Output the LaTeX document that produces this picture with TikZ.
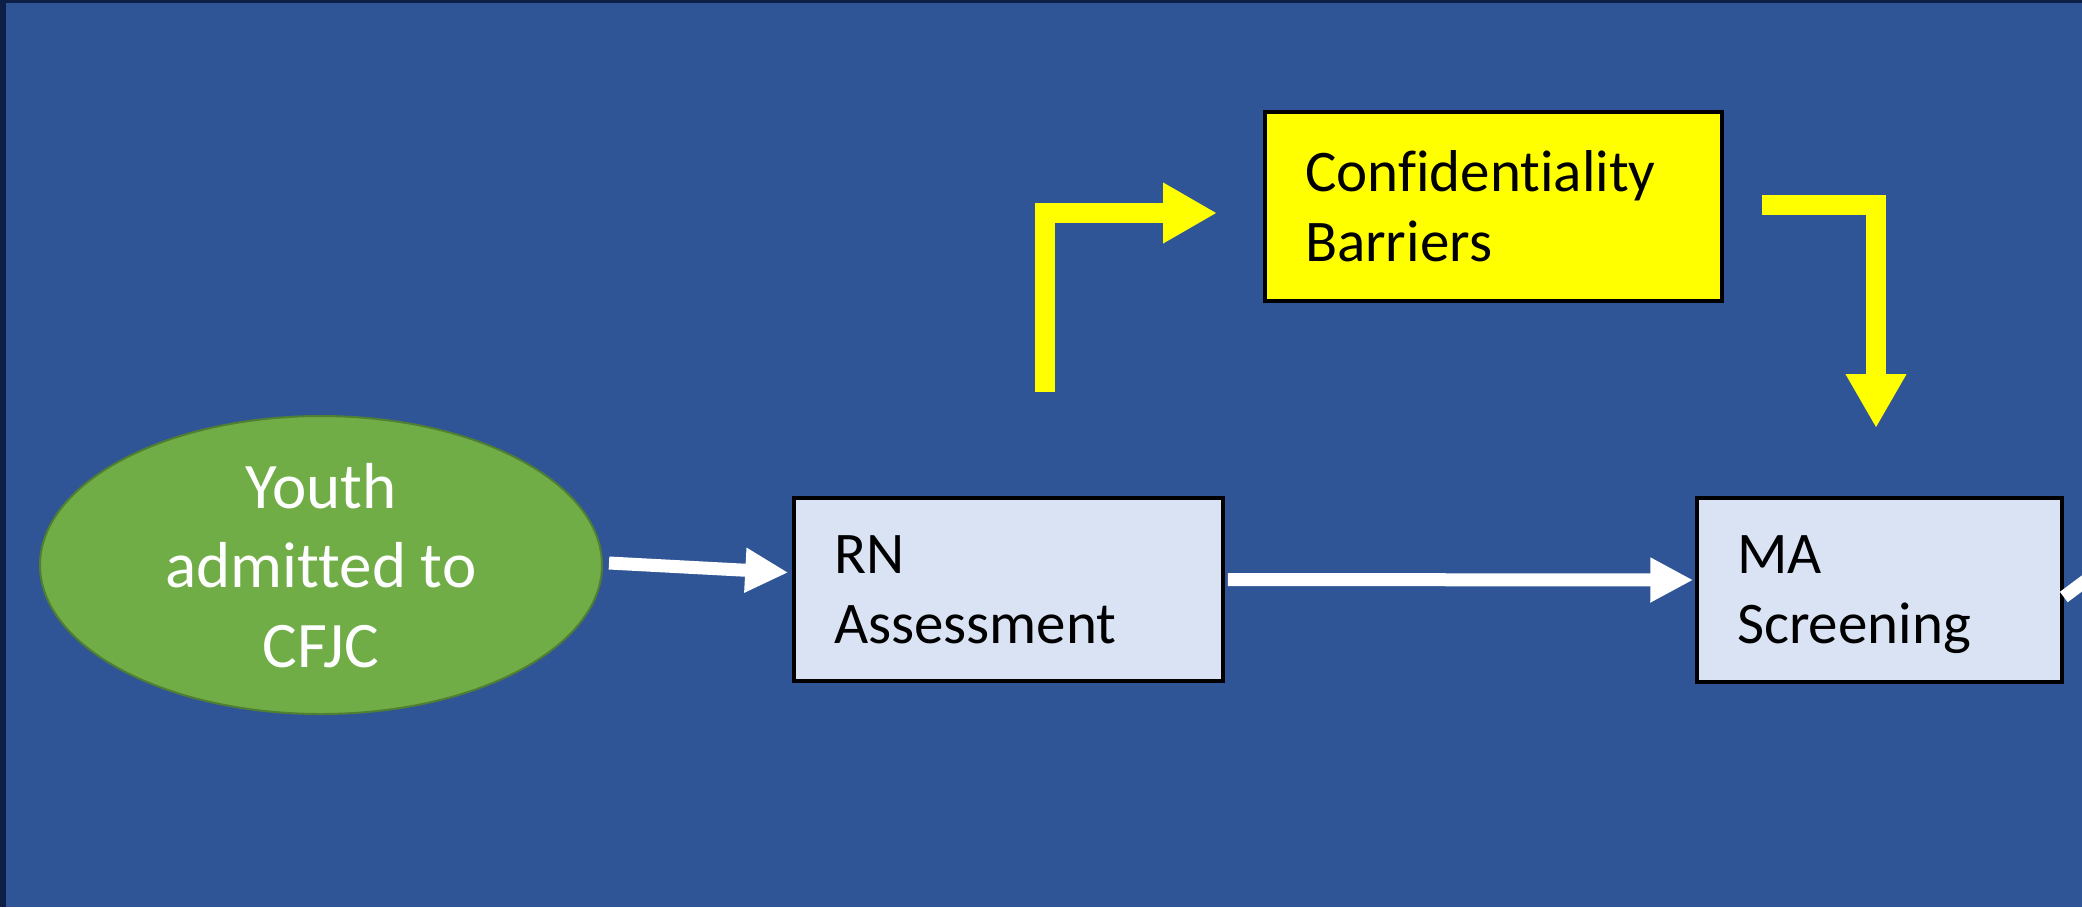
\documentclass[tikz,border=0pt]{standalone}
\usepackage{fontspec}
\setmainfont{Carlito}[Ligatures={NoCommon}]
\usetikzlibrary{arrows.meta,shapes.geometric,calc}
\definecolor{bgblue}{HTML}{2F5597}
\definecolor{frameblue}{HTML}{0C1F44}
\definecolor{boxfill}{HTML}{DAE3F3}
\definecolor{ellfill}{HTML}{70AD47}
\definecolor{elldraw}{HTML}{507E32}
\definecolor{yel}{HTML}{FFFF00}
\tikzset{
  stepbox/.style={rectangle, draw=black, line width=1.75pt, fill=boxfill,
    inner xsep=20pt, inner ysep=0pt, align=left, text=black,
    font=\fontsize{29.5}{35}\selectfont},
  startell/.style={ellipse, draw=elldraw, line width=1pt, fill=ellfill,
    inner sep=0pt, align=center, text=white,
    font=\fontsize{32.5}{39.75}\selectfont, text depth=0pt},
  warrow/.style={draw=white, line width=6.5pt, -{Triangle[length=21.5pt,width=21pt]}},
  wline/.style={draw=white, line width=6.5pt},
  yarrow/.style={draw=yel, line width=10pt, line join=miter, -{Triangle[length=27pt,width=28.5pt]}}
}
\begin{document}
\begin{tikzpicture}[x=0.5pt,y=-0.5pt]
\useasboundingbox (0,0) rectangle (2082,907);
\clip (0,0) rectangle (2082,907);
\fill[bgblue] (0,0) rectangle (2082,907);
\fill[frameblue] (0,0) rectangle (6,907);
\fill[frameblue] (0,0) rectangle (2082,3);

\node[startell, minimum width=281pt, minimum height=149pt] (yta) at (321,565) {Youth\\admitted to\\CFJC};
\node[stepbox, minimum width=214.5pt, minimum height=91.5pt, text width=174.5pt] (rn) at (1008.5,589.5) {RN\\Assessment};
\node[stepbox, minimum width=182.5pt, minimum height=92pt, text width=142.5pt] (ma) at (1879.5,590) {MA\\\raisebox{0pt}[\height][0pt]{Screening}};
\node[stepbox, fill=yel, minimum width=228.5pt, minimum height=94.5pt, text width=188.5pt] (conf) at (1493.5,206.5) {Confidentiality\\Barriers};

\draw[warrow] ($(yta.east)+(6,-2)$) -- ($(rn.west)+(-4,-17)$);
\draw[warrow] ($(rn.east)+(3,-10)$) -- ($(ma.west)+(-2,-10)$);
\coordinate (mout) at (2100,570);
\draw[wline] ($(ma.east)+(0,7)$) -- (mout);

\coordinate (ya0) at (1045,392);
\coordinate (ya1) at (1217,213);
\draw[yarrow] (ya0) |- (ya1);
\coordinate (yb0) at (1762,205);
\coordinate (yb1) at (1876,428);
\draw[yarrow] (yb0) -| (yb1);
\end{tikzpicture}
\end{document}
